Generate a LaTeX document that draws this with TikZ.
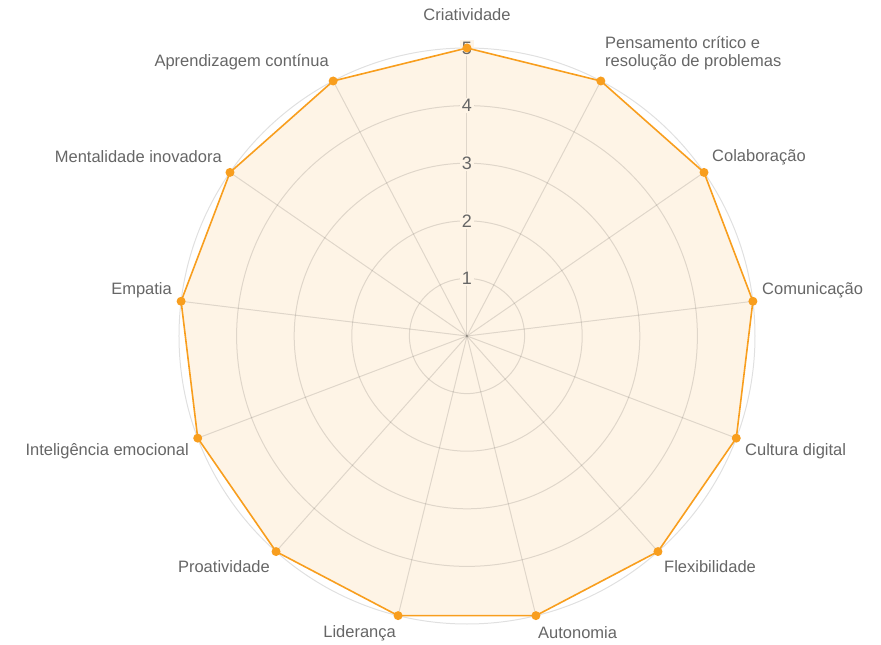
\documentclass[tikz,border=0pt]{standalone}
\usepackage{fontspec}
\setmainfont{Liberation Sans}
\definecolor{skillorange}{RGB}{248,158,30}
\definecolor{skillfill}{RGB}{254,244,230}
\definecolor{labelgray}{RGB}{102,102,102}

\begin{document}
\begin{tikzpicture}[x=1pt, y=1pt,
        grid/.style = {draw=black, opacity=0.12, line width=1pt},
        lbl/.style = {text=labelgray, font=\fontsize{16.5}{18}\selectfont, inner sep=0pt},
        tick/.style = {text=labelgray, fill=skillfill, font=\fontsize{18}{20}\selectfont, inner sep=1.5pt},
        dot/.style = {circle, fill=skillorange, inner sep=0pt, minimum size=9pt}]
        \useasboundingbox (-467,-309) rectangle (414,336);

        \coordinate (c) at (0,0);
        \foreach \i in {0,...,12}
            \coordinate (p\i) at ({90-\i*360/13}:288);

        \fill[skillfill] (p0) \foreach \i in {1,...,12}{ -- (p\i)} -- cycle;

        \foreach \r in {1,...,5}
            \draw[grid] (c) circle ({\r*57.6});
        \foreach \i in {0,...,12}
            \draw[grid] (c) -- (p\i);

        \foreach \r in {1,...,5}
            \node[tick] (t\r) at (0,{\r*57.6}) {\r};

        \draw[skillorange, line width=1.6pt, line join=round] (p0) \foreach \i in {1,...,12}{ -- (p\i)} -- cycle;
        \foreach \i in {0,...,12}
            \node[dot] (d\i) at (p\i) {};

        \node[lbl] (l0) at (0,321) {Criatividade};
        \node[lbl, anchor=west, align=left] (l1) at (138,283) {Pensamento crítico e\\resolução de problemas};
        \node[lbl, anchor=west] (l2) at (245,179) {Colaboração};
        \node[lbl, anchor=west] (l3) at (295,46) {Comunicação};
        \node[lbl, anchor=west] (l4) at (278,-115) {Cultura digital};
        \node[lbl, anchor=west] (l5) at (197,-231) {Flexibilidade};
        \node[lbl, anchor=west] (l6) at (71,-297) {Autonomia};
        \node[lbl, anchor=east] (l7) at (-71,-297) {Liderança};
        \node[lbl, anchor=east] (l8) at (-197,-231) {Proatividade};
        \node[lbl, anchor=east] (l9) at (-278,-115) {Inteligência emocional};
        \node[lbl, anchor=east] (l10) at (-295,46) {Empatia};
        \node[lbl, anchor=east] (l11) at (-245,179) {Mentalidade inovadora};
        \node[lbl, anchor=east] (l12) at (-138,274) {Aprendizagem contínua};
    \end{tikzpicture}
\end{document}
